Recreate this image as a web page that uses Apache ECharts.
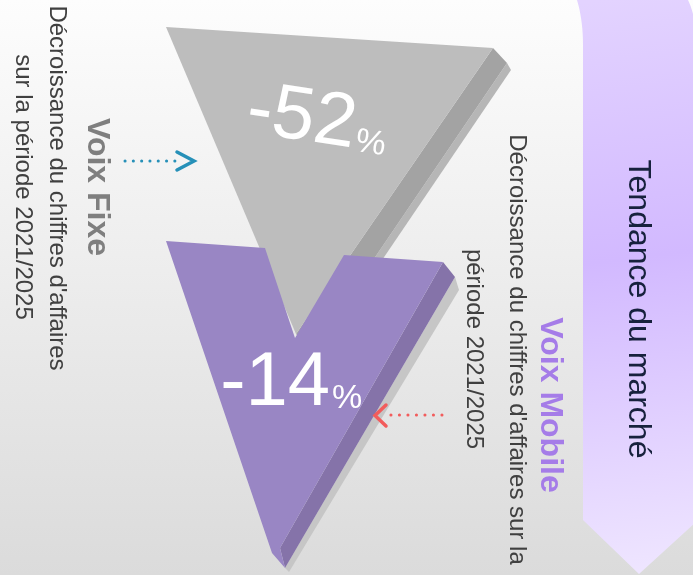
<!DOCTYPE html>
<html>
<head>
<meta charset="utf-8">
<script src="https://cdn.jsdelivr.net/npm/echarts@6/dist/echarts.min.js"></script>
<style>
html,body{margin:0;padding:0;background:#fff;}
#main{width:693px;height:575px;}
</style>
</head>
<body>
<div id="main"></div>
<script>
// ---- data ----
const categories = ['Voix Fixe', 'Voix Mobile'];
const values = [-52, -14];
const unit = '%';
const descFixe = ["Décroissance du chiffres d'affaires", 'sur la période 2021/2025'];
const descMobile = ["Décroissance du chiffres d'affaires sur la", 'période 2021/2025'];
const bannerTitle = 'Tendance du marché';

const FONT = "'Liberation Sans', Arial, sans-serif";
const chart = echarts.init(document.getElementById('main'), null, {renderer: 'canvas'});

function poly(points, fill, z) {
  return {type: 'polygon', z: z, shape: {points: points}, style: {fill: fill}, silent: true};
}
function vtext(str, x, y, size, color, weight) {
  return {
    type: 'text', x: x, y: y, rotation: -Math.PI / 2, z: 20,
    style: {text: str, fill: color, font: (weight || 'normal') + ' ' + size + 'px ' + FONT,
            align: 'center', verticalAlign: 'middle'}
  };
}
function pctGroup(val, x, y, rot, pctDy) {
  return {
    type: 'group', x: x, y: y, rotation: rot, z: 30,
    children: [
      {type: 'text', z: 30, x: 0, y: -26.5, style: {text: String(val), fill: '#ffffff',
        font: 'normal 76px ' + FONT, align: 'right', verticalAlign: 'middle'}},
      {type: 'text', z: 30, x: 2, y: -12 + pctDy, style: {text: unit, fill: '#ffffff',
        font: 'normal 34px ' + FONT, align: 'left', verticalAlign: 'middle'}}
    ]
  };
}
function bez(p0, p1, p2, p3, n) {
  const out = [];
  for (let i = 0; i <= n; i++) {
    const t = i / n, u = 1 - t;
    out.push([u*u*u*p0[0] + 3*u*u*t*p1[0] + 3*u*t*t*p2[0] + t*t*t*p3[0],
              u*u*u*p0[1] + 3*u*u*t*p1[1] + 3*u*t*t*p2[1] + t*t*t*p3[1]]);
  }
  return out;
}
const bannerPts = [].concat(
  bez([577,0],[580,10],[583,25],[583,45], 10),
  [[583,520],[639,574],[697,521]],
  bez([697,45],[697,25],[692,8],[688,0], 10)
);

const graphics = [
  // background
  {type: 'rect', z: 0, shape: {x: 0, y: 0, width: 693, height: 575},
   style: {fill: new echarts.graphic.LinearGradient(0, 0, 0, 1, [
     {offset: 0, color: '#fdfdfd'}, {offset: 1, color: '#dbdbdb'}])}, silent: true},
  // banner
  {type: 'polygon', z: 5, silent: true, shape: {points: bannerPts},
   style: {fill: new echarts.graphic.LinearGradient(0.2, 0, 0.8, 1, [
     {offset: 0, color: '#e3d3ff'}, {offset: 0.45, color: '#d2b9ff'}, {offset: 1, color: '#efe6ff'}])}},
  vtext(bannerTitle, 638, 309, 32, '#17213d'),

  // gray triangle (Voix Fixe)
  poly([[507,63],[511,70],[317,356],[312,350]], '#b6b6b6', 10),
  poly([[493,48],[507,63],[312,350],[296,334]], '#a3a3a3', 11),
  poly([[166,27],[493,48],[296,334]], '#bdbdbd', 12),

  // purple chevron (Voix Mobile)
  poly([[455,277],[459,290],[289,572],[285,568]], '#c6c6c6', 13),
  poly([[443,262],[455,277],[285,568],[280,548]], '#8573a9', 14),
  poly([[166,241],[265,248],[295,338],[344,255],[443,262],[280,548],[285,568],[272,553]], '#9986c4', 15),

  // percentages
  pctGroup(values[0], 352, 153, -0.15, 0),
  pctGroup(values[1], 330, 411, 0, 0),

  // left texts
  vtext(descFixe[0], 57, 188, 24, '#404040'),
  vtext(descFixe[1], 23, 187, 24, '#404040'),
  vtext(categories[0], 97, 187, 32, '#7f7f7f', 'bold'),

  // right texts
  vtext(descMobile[0], 517, 349.5, 24, '#404040'),
  vtext(descMobile[1], 474, 349, 24, '#404040'),
  vtext(categories[1], 550, 405, 32, '#a57ce8', 'bold'),

  // blue arrow
  {type: 'line', z: 25, shape: {x1: 125, y1: 161, x2: 183, y2: 161},
   style: {stroke: '#2690b8', lineWidth: 3, lineDash: [0.1, 8.2], lineCap: 'round'}},
  {type: 'polyline', z: 25, shape: {points: [[177,152],[194,161],[177,170]]},
   style: {stroke: '#2690b8', lineWidth: 3.5, fill: null, lineCap: 'round'}},

  // red arrow
  {type: 'line', z: 25, shape: {x1: 442, y1: 415, x2: 383, y2: 415},
   style: {stroke: '#f25c5c', lineWidth: 3, lineDash: [0.1, 8.4], lineCap: 'round'}},
  {type: 'polyline', z: 25, shape: {points: [[386,405],[375,415.5],[386,426]]},
   style: {stroke: '#f25c5c', lineWidth: 3.5, fill: null, lineCap: 'round'}}
];

chart.setOption({
  animation: false,
  graphic: {elements: graphics}
});
</script>
</body>
</html>
